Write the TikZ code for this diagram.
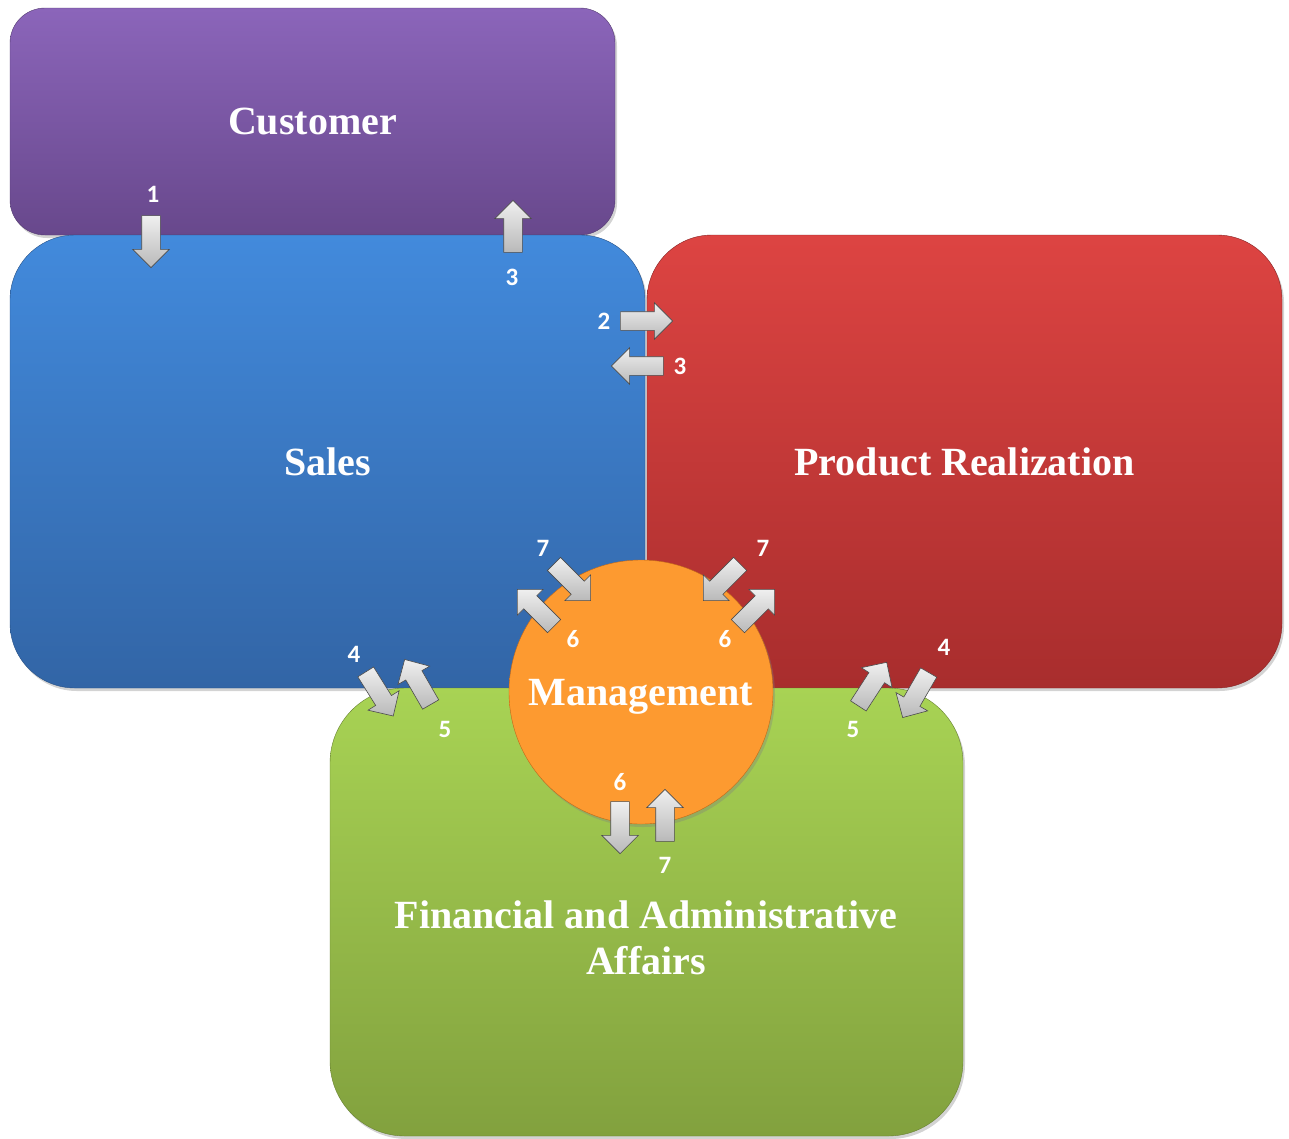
\documentclass[tikz,border=0pt]{standalone}
\usepackage{fontspec}
\setmainfont{Liberation Serif}
\newfontfamily\numfont{Carlito}
\usetikzlibrary{shapes.arrows,shadows}

\definecolor{custtop}{RGB}{139,101,186}
\definecolor{custbot}{RGB}{104,72,140}
\definecolor{salestop}{RGB}{66,138,220}
\definecolor{salesbot}{RGB}{50,101,166}
\definecolor{prodtop}{RGB}{221,68,66}
\definecolor{prodbot}{RGB}{168,45,45}
\definecolor{fintop}{RGB}{168,211,84}
\definecolor{finbot}{RGB}{130,161,62}
\definecolor{mgmtin}{RGB}{253,154,48}
\definecolor{mgmtout}{RGB}{226,122,30}

\pgfdeclareradialshading{mgmtshade}{\pgfpoint{0bp}{0bp}}{color(0bp)=(mgmtin); color(40bp)=(mgmtin); color(50bp)=(mgmtout)}

\tikzset{
  title/.style={text=white, font=\fontsize{40}{46}\selectfont\bfseries, align=center, inner sep=0pt},
  area/.style={title, rectangle,
    drop shadow={opacity=0.35, shadow xshift=2pt, shadow yshift=-3pt}},
  flow/.style={single arrow, single arrow head extend=9pt, inner xsep=0pt, inner ysep=9pt,
    minimum height=52pt, draw=gray!60!black, line width=0.6pt, top color=gray!12, bottom color=gray!55},
  num/.style={text=white, font=\numfont\fontsize{25}{25}\selectfont\bfseries, inner sep=0pt}
}

\begin{document}
\begin{tikzpicture}[x=1pt,y=-1pt]
        \useasboundingbox (0,0) rectangle (1289,1138);
        \node[area, minimum width=605pt, minimum height=227pt, rounded corners=35pt, top color=custtop, bottom color=custbot, draw=custbot!80!black] (customer) at (312.5,121.5) {Customer};
        \node[area, minimum width=635pt, minimum height=453pt, rounded corners=65pt, top color=salestop, bottom color=salesbot, draw=salesbot!80!black] (sales) at (327.5,461.5) {Sales};
        \node[area, minimum width=635pt, minimum height=453pt, rounded corners=65pt, top color=prodtop, bottom color=prodbot, draw=prodbot!80!black] (product) at (964.5,461.5) {Product Realization};
        \node[area, minimum width=633pt, minimum height=448pt, rounded corners=75pt, top color=fintop, bottom color=finbot, draw=finbot!80!black] (finance) at (646.5,912) {};
        \node[title] (financetext) at (646,938) {Financial and Administrative\\Affairs};
        \node[area, circle, minimum size=264pt, text depth=0pt, shading=mgmtshade, draw=mgmtout!85!black] (management) at (641,692) {Management};

        \node[flow, rotate=-90] (custsales) at (151,237) {};
        \node[flow, rotate=90] (salescust) at (513,231) {};
        \node[flow, rotate=0] (salesprod) at (642,321) {};
        \node[flow, rotate=180] (prodsales) at (642,366) {};
        \node[flow, rotate=-45] (salesmgmt) at (569,579) {};
        \node[flow, rotate=135] (mgmtsales) at (539,611) {};
        \node[flow, rotate=-135] (prodmgmt) at (725,579) {};
        \node[flow, rotate=45] (mgmtprod) at (753,611) {};
        \node[flow, rotate=-58] (salesfin) at (377,690) {};
        \node[flow, rotate=120] (finsales) at (420,686) {};
        \node[flow, rotate=57] (finprod) at (870,688) {};
        \node[flow, rotate=-120] (prodfin) at (918,691) {};
        \node[flow, rotate=-90] (mgmtfin) at (620,823) {};
        \node[flow, rotate=90] (finmgmt) at (665,820) {};

        \node[num] (n1) at (153,194) {1};
        \node[num] (n3a) at (512,277) {3};
        \node[num] (n2) at (604,321) {2};
        \node[num] (n3b) at (680,366) {3};
        \node[num] (n7a) at (543,548) {7};
        \node[num] (n6a) at (573,639) {6};
        \node[num] (n7b) at (763,548) {7};
        \node[num] (n6b) at (725,639) {6};
        \node[num] (n4a) at (354,654) {4};
        \node[num] (n5a) at (445,729) {5};
        \node[num] (n5b) at (853,729) {5};
        \node[num] (n4b) at (944,647) {4};
        \node[num] (n6c) at (620,782) {6};
        \node[num] (n7c) at (665,865) {7};
    \end{tikzpicture}
\end{document}
